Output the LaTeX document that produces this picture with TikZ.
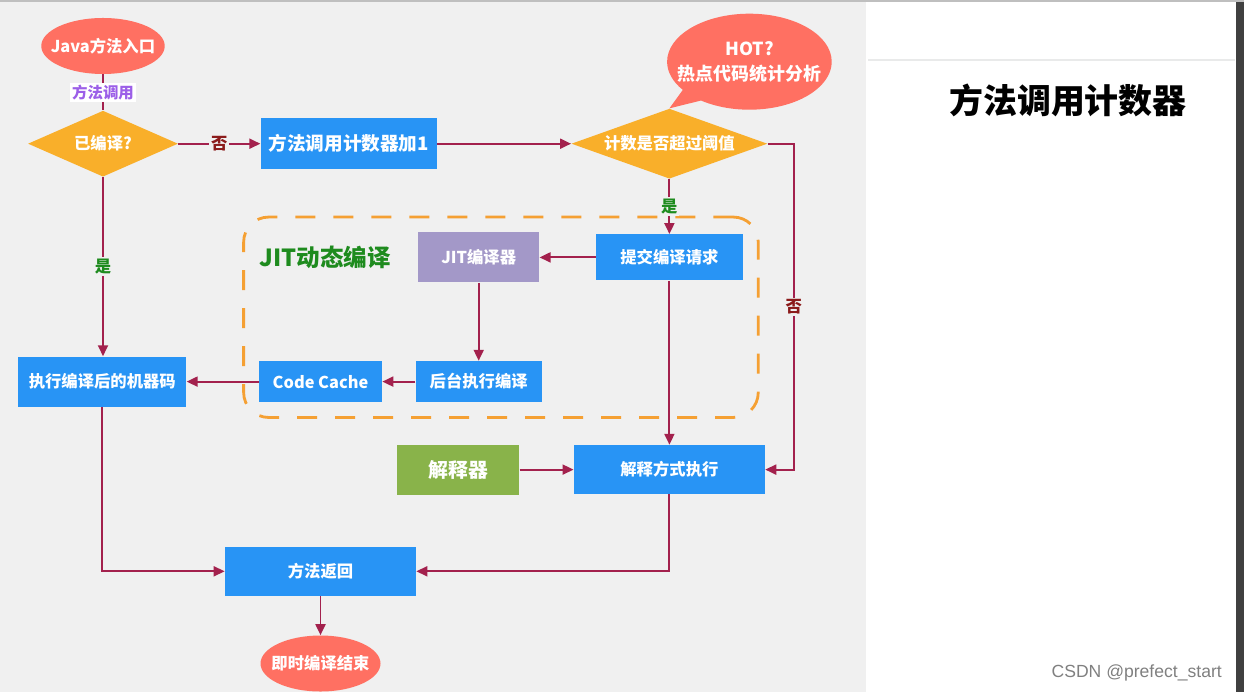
\documentclass[tikz,border=0pt]{standalone}
\usepackage{fontspec}
\setmainfont{Noto Sans CJK SC}
\newfontfamily\markfont{Liberation Sans}
\usepackage{xcolor}
\usetikzlibrary{positioning, arrows.meta, shapes.geometric, shapes.callouts, fit, backgrounds}

\definecolor{pagegray}{HTML}{F0F0F0}
\definecolor{salmon}{HTML}{FF7062}
\definecolor{amber}{HTML}{F9AF2A}
\definecolor{stepblue}{HTML}{2894F5}
\definecolor{jitpurple}{HTML}{A398C8}
\definecolor{leafgreen}{HTML}{89B34A}
\definecolor{flowred}{HTML}{A3214D}
\definecolor{dashorange}{HTML}{F5A033}
\definecolor{labelgreen}{HTML}{1E8B1E}
\definecolor{labelpurple}{HTML}{9C5FE8}
\definecolor{labelred}{HTML}{8B1A1A}

\begin{document}
\begin{tikzpicture}[
    node distance=6mm,
    every node/.style={font=\fontsize{9.3}{11}\selectfont\bfseries},
    box/.style={rectangle, fill=stepblue, text=white, inner sep=0pt, align=center},
    terminal/.style={ellipse, fill=salmon, text=white, minimum width=24mm, minimum height=11.2mm, inner xsep=-1.7mm, inner ysep=0pt},
    decision/.style={diamond, fill=amber, text=white, inner sep=0pt, align=center},
    hotbubble/.style={ellipse callout, fill=salmon, text=white, align=center, inner xsep=-2.7mm, inner ysep=0pt, minimum width=32.8mm, minimum height=19.2mm, callout pointer arc=18},
    jitgroup/.style={draw=dashorange, line width=1.6pt, dash pattern=on 4mm off 3.6mm, rounded corners=5mm, inner sep=3mm},
    arrow/.style={-{Triangle[length=2.2mm, width=2mm]}, draw=flowred, line width=1.1pt},
    line/.style={draw=flowred, line width=1.1pt},
    edgelabel/.style={fill=pagegray, inner sep=1pt},
]
    % --- page ---
    \useasboundingbox (0,0) rectangle (248.8mm,-138.4mm);
    \fill[pagegray] (0,0) rectangle (173.2mm,-138.4mm);
    \fill[white] (173.2mm,0) rectangle (247.2mm,-138.4mm);
    \fill[black!75] (247.2mm,0) rectangle (248.8mm,-138.4mm);
    \fill[black!25] (0,0) rectangle (248.8mm,-0.4mm);
    \draw[cyan!8!black!10, line width=0.6pt] (173.6mm,-12mm) -- (247mm,-12mm);

    % --- main flow ---
    \node[terminal] (entry) at (20.6mm,-9.2mm) {Java方法入口};
    \node[decision, shape aspect=2.3, minimum width=30mm, minimum height=13.2mm, below=7.2mm of entry] (compiled) {已编译?};
    \node[box, font=\fontsize{10.6}{12}\selectfont\bfseries, minimum width=35.2mm, minimum height=10.2mm, right=16.4mm of compiled] (counter) {方法调用计数器加1};
    \node[decision, shape aspect=2.8, minimum width=39.2mm, minimum height=14mm, right=26.8mm of counter] (threshold) {计数是否超过阈值};
    \node[hotbubble, font=\fontsize{10.2}{14}\selectfont\bfseries, callout absolute pointer={(threshold.north)}] (hot) at ([shift={(16mm,16.4mm)}]threshold.center) {HOT?\\热点代码统计分析};

    % --- JIT part ---
    \node[box, minimum width=29.4mm, minimum height=9.2mm, below=11mm of threshold] (submit) {提交编译请求};
    \node[box, fill=jitpurple, minimum width=24.2mm, minimum height=10mm, left=11.2mm of submit] (jit) {JIT编译器};
    \node[box, minimum width=25.2mm, minimum height=8.2mm, below=15.6mm of jit] (backend) {后台执行编译};
    \node[box, minimum width=24.6mm, minimum height=8.2mm, left=6.6mm of backend] (cache) {Code Cache};
    \node[box, minimum width=33.6mm, minimum height=10mm, left=14.4mm of cache] (machine) {执行编译后的机器码};
    \node[jitgroup, fit=(cache)(jit)(submit)(backend)] (jitbox) {};
    \node[text=labelgreen, font=\fontsize{13.4}{15}\selectfont\bfseries, left=4.2mm of jit] (jitlabel) {JIT动态编译};

    % --- interpreter and end ---
    \node[box, minimum width=38.2mm, minimum height=9.8mm, below=32.8mm of submit] (interpexec) {解释方式执行};
    \node[box, fill=leafgreen, font=\fontsize{11.3}{13}\selectfont\bfseries, minimum width=24.4mm, minimum height=10mm, left=10.8mm of interpexec] (interp) {解释器};
    \node[box, minimum width=38.2mm, minimum height=9.8mm, below=28.8mm of cache] (return) {方法返回};
    \node[terminal, below=7.8mm of return] (finish) {即时编译结束};

    % --- side panel ---
    \node[font=\fontsize{19.3}{22}\selectfont\bfseries] (title) at (213.6mm,-20mm) {方法调用计数器};
    \node[anchor=east, text=black!50, font=\markfont\fontsize{10}{12}\selectfont] (mark) at (245.6mm,-134.6mm) {CSDN @prefect\_start};

    % --- arrows ---
    \draw[line] (entry) -- node[fill=white, text=labelpurple, inner sep=1pt, font=\fontsize{8.8}{10}\selectfont\bfseries] {方法调用} (compiled);
    \draw[arrow] (compiled) -- node[edgelabel, text=labelred] {否} (counter);
    \draw[arrow] (counter) -- (threshold);
    \draw[arrow] (threshold) -- node[edgelabel, text=labelgreen] {是} (submit);
    \draw[arrow] (threshold.east) -- ++(5.2mm,0) |- node[pos=0.25, edgelabel, text=labelred] {否} (interpexec.east);
    \draw[arrow] (submit) -- (jit);
    \draw[arrow] (jit) -- (backend);
    \draw[arrow] (backend) -- (cache);
    \draw[arrow] (cache) -- (machine);
    \draw[arrow] (compiled) -- node[edgelabel, text=labelgreen] {是} (compiled |- machine.north);
    \draw[arrow] (submit) -- (interpexec);
    \draw[arrow] (interp) -- (interpexec);
    \draw[arrow] (machine) |- (return);
    \draw[arrow] (interpexec) |- (return);
    \draw[arrow] (return) -- (finish);

\end{tikzpicture}
\end{document}
